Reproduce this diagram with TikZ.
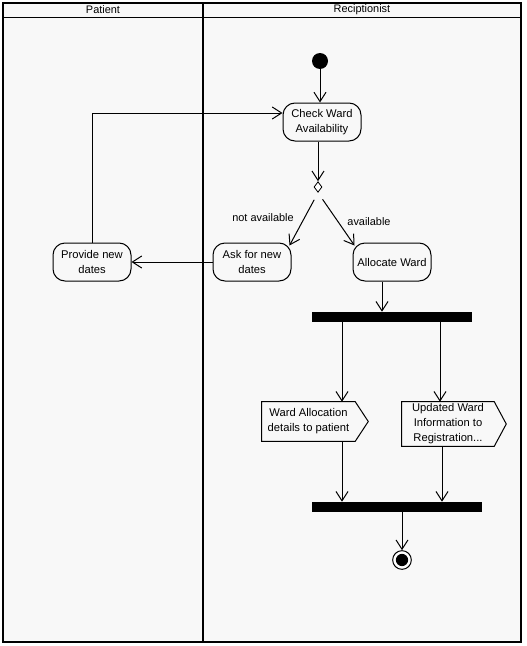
\documentclass[tikz,border=0pt]{standalone}
\usepackage{fontspec}
\setmainfont{Liberation Sans}
\usetikzlibrary{arrows.meta,calc,shapes.geometric}
\definecolor{lanebg}{RGB}{248,248,248}
\begin{document}
\begin{tikzpicture}[x=0.75pt,y=-0.75pt,
  act/.style={draw, rounded corners=9pt, minimum width=58.5pt, minimum height=28.5pt, align=center, fill=lanebg, font=\fontsize{8.4}{11.25}\selectfont, inner sep=1pt, line width=0.75pt},
  sig/.style={draw=none, minimum height=29.25pt, align=center, font=\fontsize{8.4}{11.25}\selectfont, inner sep=1pt},
  sigshape/.style={draw, line width=0.75pt},
  flow/.style={-{Straight Barb[length=7pt,width=9pt]}, line width=0.75pt},
  bar/.style={fill=black, draw=none, inner sep=0pt, minimum height=7.5pt},
  lbl/.style={font=\fontsize{8.2}{10}\selectfont, inner sep=1pt}
]
\useasboundingbox (0,0) rectangle (526,646);
\fill[white] (0,0) rectangle (526,646);
\fill[lanebg] (3,3) rectangle (521,642);
\draw[line width=0.75pt] (3,17) -- (521,17);
\draw[line width=1.5pt] (3,3) rectangle (521,642);
\draw[line width=1.5pt] (203,3) -- (203,642);
\node[lbl] (hp) at (103,10) {Patient};
\node[lbl] (hr) at (362,10) {Reciptionist};

% nodes
\node[circle, fill=black, minimum size=12pt, inner sep=0pt] (start) at (320,61) {};
\node[act] (check) at (322,122) {Check Ward\\Availability};
\node[diamond, draw, fill=white, line width=0.6pt, minimum width=6pt, minimum height=8pt, inner sep=0pt] (dec) at (318,187) {};
\node[act] (ask) at (252,262) {Ask for new\\dates};
\node[act] (alloc) at (392,262) {Allocate Ward};
\node[act] (prov) at (92,262) {Provide new\\dates};
\node[bar, minimum width=120pt] (fork) at (392,317) {};
\node[sig, minimum width=69.75pt] (s1) at (308.5,421.5) {Ward Allocation\\details to patient};
\node[sig, minimum width=69pt, minimum height=33pt] (s2) at (448,424) {Updated Ward\\Information to\\Registration...};
\node[bar, minimum width=127.5pt] (join) at (397,507) {};
\node[circle, draw, fill=white, line width=0.75pt, minimum size=14pt, inner sep=0pt] (end) at (402,560) {};
\fill[black] (end.center) circle (4.6pt);

% signal outlines
\draw[sigshape] (s1.north west) -- (s1.north east) -- ($(s1.east)+(13,0)$) -- (s1.south east) -- (s1.south west) -- cycle;
\draw[sigshape] (s2.north west) -- (s2.north east) -- ($(s2.east)+(12,0)$) -- (s2.south east) -- (s2.south west) -- cycle;

% labels
\node[lbl] (lna) at (263,218) {not available};
\node[lbl] (la) at (369,222) {available};

% connectors
\draw[flow] (start) -- (start |- check.north);
\draw[flow] (check.south -| dec) -- (dec.north);
\draw[flow, shorten <=6pt] (dec.south) -- ([shift={(-2,3)}]ask.north east);
\draw[flow, shorten <=6pt] (dec.south) -- ([shift={(2,3)}]alloc.north west);
\draw[flow] (ask.west) -- (prov.east);
\draw[flow] (prov.north) |- ($(check.west)+(0,-9)$);
\coordinate (a1) at ($(alloc.south)+(-10,0)$);
\draw[flow] (a1) -- (a1 |- fork.north);
\coordinate (c1) at ($(s1.north)+(33.5,0)$);
\draw[flow] (c1 |- fork.south) -- (c1);
\draw[flow] (c1 |- s1.south) -- (c1 |- join.north);
\coordinate (c2) at ($(s2.north)+(-8,0)$);
\draw[flow] (c2 |- fork.south) -- (c2);
\coordinate (c3) at ($(s2.south)+(-6,0)$);
\draw[flow] (c3) -- (c3 |- join.north);
\draw[flow] (join.south -| end) -- (end.north);
\end{tikzpicture}
\end{document}
